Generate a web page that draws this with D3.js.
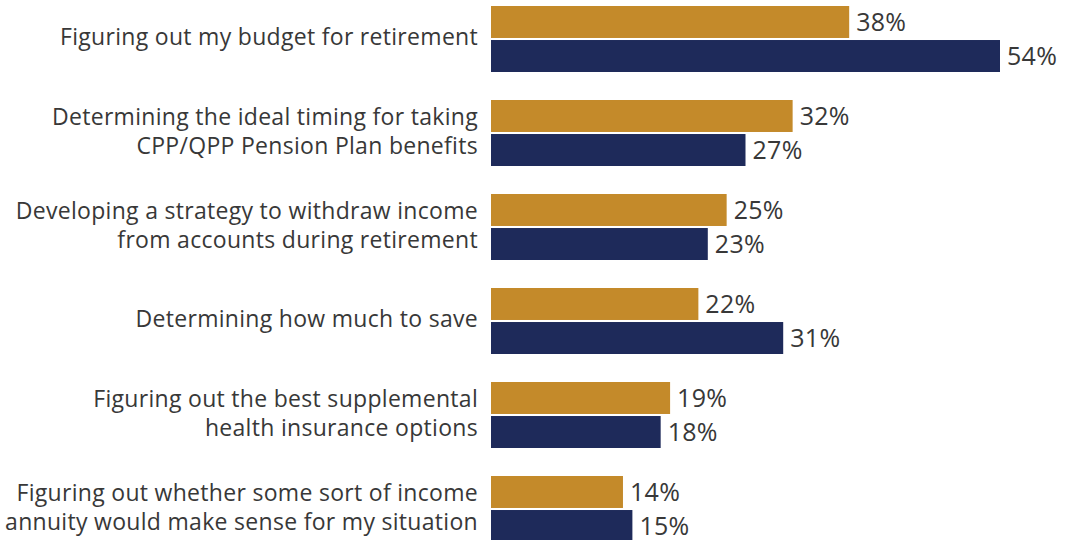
<!DOCTYPE html>
<html>
<head>
<meta charset="utf-8">
<script src="https://cdn.jsdelivr.net/npm/d3@7"></script>
<style>
  html, body { margin: 0; padding: 0; background: #ffffff; }
  svg { display: block; }
  text { font-family: "Open Sans", Lato, sans-serif; font-weight: 400; fill: #383838; }
</style>
</head>
<body>
<svg id="chart" width="1065" height="540"></svg>
<script>
// Retirement-planning topics, each with two respondent groups
const categories = [
  ["Figuring out my budget for retirement"],
  ["Determining the ideal timing for taking", "CPP/QPP Pension Plan benefits"],
  ["Developing a strategy to withdraw income", "from accounts during retirement"],
  ["Determining how much to save"],
  ["Figuring out the best supplemental", "health insurance options"],
  ["Figuring out whether some sort of income", "annuity would make sense for my situation"]
];
const seriesNames = ["groupA", "groupB"];
const goldValues = [38, 32, 25, 22, 19, 14];
const navyValues = [54, 27, 23, 31, 18, 15];

const colors = { groupA: "#C48A2A", groupB: "#1E2A5A" };

const svg = d3.select("#chart");
const margin = { left: 491, top: 6 };

const x = d3.scaleLinear().domain([0, 54]).range([margin.left, 1000]);

const y = d3.scaleBand()
  .domain(d3.range(categories.length))
  .range([margin.top, margin.top + 94 * categories.length])
  .paddingInner(0).paddingOuter(0);

const inner = d3.scaleBand()
  .domain(seriesNames)
  .range([0, 66])
  .paddingInner(0.06);

const rows = categories.map((lines, i) => ({
  lines,
  values: [
    { key: "groupA", value: goldValues[i] },
    { key: "groupB", value: navyValues[i] }
  ]
}));

const g = svg.selectAll("g.row")
  .data(rows)
  .join("g")
  .attr("class", "row")
  .attr("transform", (d, i) => `translate(0,${y(i)})`);

g.selectAll("rect")
  .data(d => d.values)
  .join("rect")
  .attr("x", x(0))
  .attr("y", d => inner(d.key))
  .attr("width", d => x(d.value) - x(0))
  .attr("height", inner.bandwidth())
  .attr("fill", d => colors[d.key]);

g.selectAll("text.value")
  .data(d => d.values)
  .join("text")
  .attr("class", "value")
  .attr("x", d => x(d.value) + 7)
  .attr("y", d => inner(d.key) + inner.bandwidth() / 2)
  .attr("dy", "0.34em")
  .attr("font-size", 25)
  .attr("letter-spacing", 0.3)
  .text(d => d.value + "%");

// Category labels, right-aligned against the bars
const lineH = 29;
g.each(function(d) {
  const n = d.lines.length;
  const mid = 31;
  const t = d3.select(this).append("text")
    .attr("class", "cat")
    .attr("text-anchor", "end")
    .attr("font-size", 23)
    .attr("letter-spacing", 0.3);
  d.lines.forEach((ln, k) => {
    t.append("tspan")
      .attr("x", 478)
      .attr("y", mid + (k - (n - 1) / 2) * lineH)
      .attr("dy", "0.36em")
      .text(ln);
  });
});
</script>
</body>
</html>
